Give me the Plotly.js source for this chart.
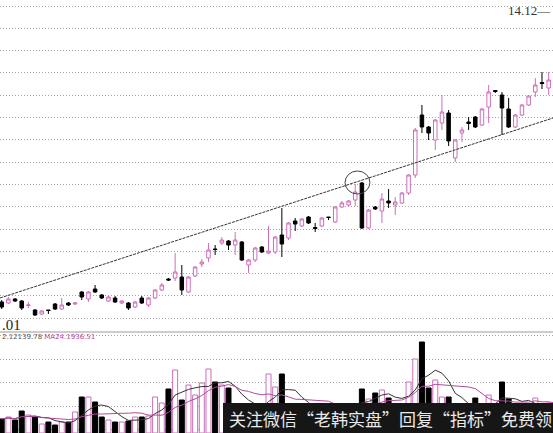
<!DOCTYPE html>
<html><head><meta charset="utf-8">
<script src="https://cdn.plot.ly/plotly-3.0.1.min.js"></script>
<style>html,body{margin:0;padding:0;background:#fff;overflow:hidden}#chart{width:553px;height:433px}</style>
</head><body><div id="chart"></div>
<script>
// ---- data (trading days, prices in yuan, volume in thousand lots) ----
const openP = [8.14,8.12,8.20,8.16,8.07,7.98,7.90,7.98,8.10,8.00,
  8.12,8.10,8.34,8.20,8.40,8.28,8.16,8.22,8.12,8.12,
  8.04,8.22,8.08,8.22,8.38,8.60,8.62,8.64,8.34,8.66,
  8.90,9.02,9.20,9.32,9.36,9.28,9.34,8.88,8.98,9.24,
  9.12,9.14,9.48,9.42,9.76,9.66,9.84,9.63,9.66,9.84,
  9.74,10.04,10.08,10.18,10.52,9.62,10.04,9.96,10.16,10.08,
  10.12,10.32,10.68,11.88,11.64,11.38,11.72,11.92,11.02,11.52,
  11.74,11.84,11.68,12.04,12.37,12.28,12.00,11.64,11.88,12.08,
  12.34,12.53,12.42,12.58];
const highP = [8.18,8.24,8.22,8.18,8.14,8.00,7.98,7.98,8.12,8.22,
  8.14,8.14,8.36,8.36,8.48,8.30,8.26,8.26,8.18,8.14,
  8.16,8.26,8.24,8.40,8.52,8.62,9.12,8.88,8.66,8.86,
  9.00,9.32,9.28,9.44,9.38,9.54,9.36,9.00,9.24,9.26,
  9.66,9.46,10.02,9.74,9.82,9.82,9.86,9.72,9.84,9.84,
  10.06,10.16,10.18,10.50,10.54,10.00,10.06,10.32,10.40,10.24,
  10.34,10.70,11.62,12.08,11.66,11.80,12.28,11.98,11.40,11.64,
  11.84,11.86,12.02,12.48,12.38,12.34,12.22,11.90,12.10,12.28,
  12.62,12.74,12.74,12.78];
const lowP = [8.00,8.10,8.14,7.98,8.02,7.86,7.88,7.90,7.98,7.98,
  8.06,8.08,8.18,8.14,8.32,8.20,8.14,8.12,8.10,7.98,
  8.02,8.10,8.04,8.20,8.36,8.56,8.56,8.28,8.32,8.64,
  8.84,8.94,9.08,9.28,9.18,9.08,8.96,8.72,8.94,9.12,
  9.10,9.10,9.04,9.38,9.56,9.64,9.70,9.54,9.64,9.78,
  9.72,10.02,10.04,10.06,9.60,9.60,9.98,9.72,10.02,9.88,
  10.10,10.28,10.62,11.52,11.38,11.18,11.58,11.26,10.94,11.34,
  11.58,11.62,11.66,11.72,12.32,11.48,11.62,11.62,11.86,12.06,
  12.24,12.40,12.28,12.54];
const closeP = [8.04,8.20,8.16,8.02,8.08,7.88,7.96,7.97,8.00,8.08,
  8.08,8.12,8.24,8.34,8.34,8.22,8.24,8.14,8.16,8.02,
  8.14,8.12,8.22,8.38,8.48,8.58,8.74,8.38,8.64,8.84,
  8.94,9.18,9.19,9.38,9.28,9.38,8.98,8.98,9.22,9.14,
  9.16,9.44,9.30,9.72,9.70,9.80,9.72,9.61,9.82,9.83,
  10.04,10.12,10.16,10.34,9.62,9.98,10.00,10.20,10.12,10.14,
  10.32,10.68,11.58,11.64,11.52,11.78,11.94,11.36,11.38,11.58,
  11.71,11.64,12.00,12.34,12.35,12.02,11.64,11.88,12.08,12.26,
  12.48,12.51,12.58,12.70];
const volume = [14,16,13,22,18,16,9,11,8,11,
  11,21,36,36,31,16,13,11,11,12,
  16,16,17,36,30,44,63,33,48,38,
  50,64,51,48,45,26,24,22,27,25,
  59,46,59,28,22,24,20,18,22,20,
  28,24,26,29,44,34,40,43,35,27,
  28,51,74,91,45,53,36,36,28,24,
  22,35,29,38,22,51,34,26,25,27,
  35,24,30,26];
// trend line drawn on the chart (day index, price)
const trendDays = [-0.255, 82.65];
const trendPrice = [8.22, 11.82];
// circled point
const circleDays = [51.47, 55.2];
const circlePrice = [10.30, 10.76];
const highLabel = '14.12—';
const lowLabel = '.01';
const volLabel = '2.12139.78';
const maLabel = 'MA24.1936.51';
const watermark = '关注微信“老韩实盘”回复“指标”免费领';

// ---- build ----
const days = openP.map((_, i) => i);
const PINK = '#cc6fb8';
const up = closeP.map((c, i) => c >= openP[i]);
function ma(arr, n) {
  return arr.map((_, i) => {
    const s = arr.slice(Math.max(0, i - n + 1), i + 1);
    return s.reduce((a, b) => a + b, 0) / s.length;
  });
}
const traces = [
  {type:'candlestick', x:days, open:openP, high:highP, low:lowP, close:closeP,
   xaxis:'x', yaxis:'y', whiskerwidth:0,
   increasing:{line:{color:PINK, width:1}, fillcolor:'#ffffff'},
   decreasing:{line:{color:'#000000', width:1}, fillcolor:'#000000'},
   hoverinfo:'skip'},
  {type:'bar', x:days, y:volume, xaxis:'x', yaxis:'y2',
   marker:{color:up.map(u => u ? '#ffffff' : '#000000'),
           line:{color:up.map(u => u ? PINK : '#000000'), width:1}},
   hoverinfo:'skip'},
  {type:'scatter', mode:'lines', x:days, y:ma(volume,5), xaxis:'x', yaxis:'y2',
   line:{color:'#333333', width:1}, hoverinfo:'skip'},
  {type:'scatter', mode:'lines', x:days, y:ma(volume,10), xaxis:'x', yaxis:'y2',
   line:{color:'#b04a9c', width:1}, hoverinfo:'skip'}
];
const H = 433, W = 553;
const layout = {
  width:W, height:H, margin:{l:0,r:0,t:0,b:0},
  paper_bgcolor:'#ffffff', plot_bgcolor:'#ffffff', showlegend:false,
  boxgap:0.25, bargap:0.25,
  xaxis:{range:[-0.255,82.65], showticklabels:false, showgrid:false, zeroline:false,
         showline:false, ticks:'', rangeslider:{visible:false}, anchor:'y2', fixedrange:true},
  yaxis:{domain:[1-332/H,1], range:[7.54,14.18], showticklabels:false, ticks:'',
         showgrid:true, gridcolor:'#a8a8a8', griddash:'1px,2px', gridwidth:1,
         tick0:7.816, dtick:0.446, zeroline:false, showline:false, fixedrange:true},
  yaxis2:{domain:[0,1-334/H], range:[0,99], showticklabels:false, ticks:'',
          showgrid:true, gridcolor:'#a8a8a8', griddash:'1px,2px', gridwidth:1,
          tick0:27, dtick:23.5, zeroline:false, showline:false, fixedrange:true},
  shapes:[
    {type:'line', xref:'x', yref:'y', x0:trendDays[0], x1:trendDays[1], y0:trendPrice[0], y1:trendPrice[1],
     line:{color:'#333333', width:1, dash:'3px,1px'}},
    {type:'circle', xref:'x', yref:'y', x0:circleDays[0], x1:circleDays[1], y0:circlePrice[0], y1:circlePrice[1],
     line:{color:'#444444', width:1}},
    {type:'line', xref:'paper', yref:'paper', x0:0, x1:1, y0:1-332/H, y1:1-332/H,
     line:{color:'#9a9a9a', width:1}},
    {type:'rect', xref:'paper', yref:'paper', x0:223/W, x1:1, y0:0, y1:30/H,
     fillcolor:'#161616', line:{width:0}}
  ],
  annotations:[
    {xref:'paper', yref:'paper', x:1, y:1-1/H, xanchor:'right', yanchor:'top', showarrow:false,
     text:highLabel, font:{family:'Liberation Serif', size:13, color:'#333333'}},
    {xref:'paper', yref:'paper', x:0, y:(H-325)/H, xanchor:'left', yanchor:'middle', showarrow:false,
     text:lowLabel, font:{family:'Liberation Serif', size:15, color:'#222222'}},
    {xref:'paper', yref:'paper', x:0, y:(H-337)/H, xanchor:'left', yanchor:'middle', showarrow:false,
     text:'<span style="color:#555555">'+volLabel+'</span> <span style="color:#b04a9c">'+maLabel+'</span>',
     font:{family:'DejaVu Sans', size:7, color:'#555555'}},
    {xref:'paper', yref:'paper', x:390/W, y:15/H, xanchor:'center', yanchor:'middle', showarrow:false,
     text:watermark, font:{family:'Noto Sans CJK SC', size:17, color:'#eaeaea'}}
  ]
};
Plotly.newPlot('chart', traces, layout, {staticPlot:true, displayModeBar:false});
</script></body></html>
